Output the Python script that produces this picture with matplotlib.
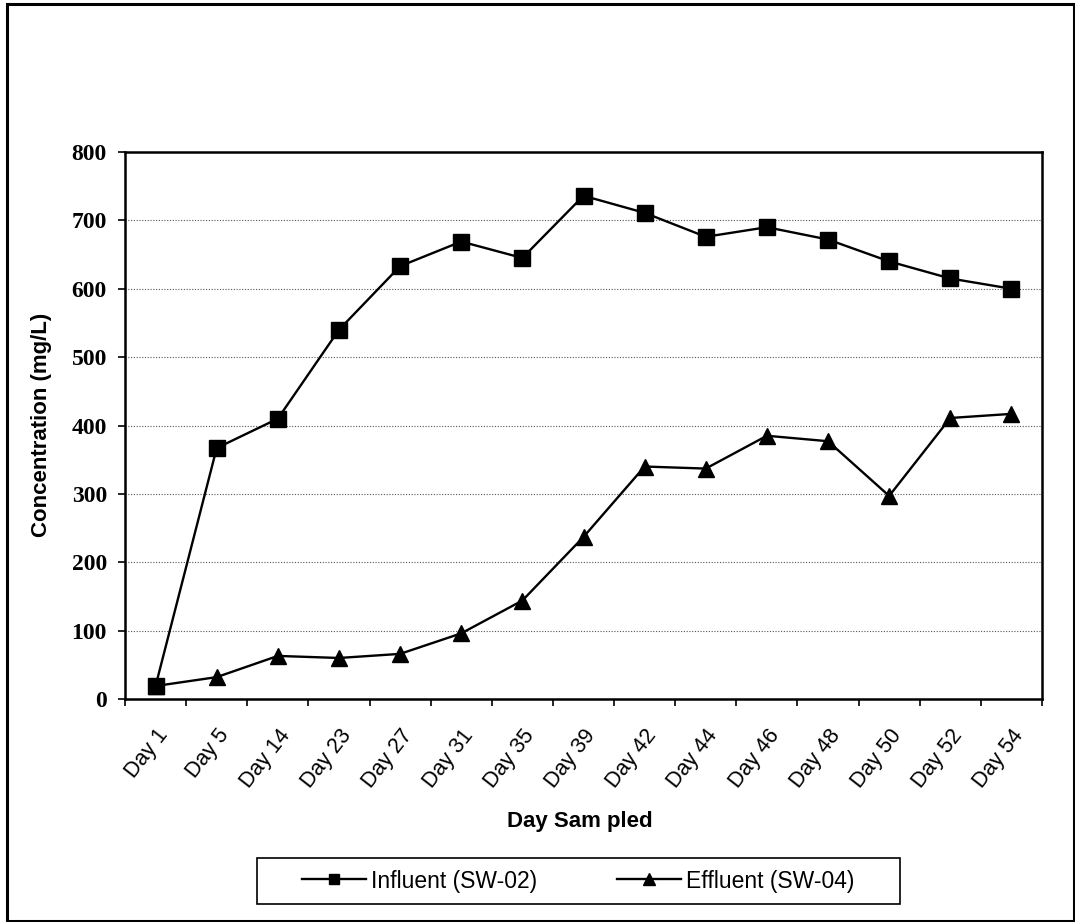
import numpy as np
import matplotlib.pyplot as plt
from matplotlib.patches import Rectangle
from matplotlib.ticker import FixedLocator

days = ['Day 1', 'Day 5', 'Day 14', 'Day 23', 'Day 27', 'Day 31', 'Day 35', 'Day 39',
        'Day 42', 'Day 44', 'Day 46', 'Day 48', 'Day 50', 'Day 52', 'Day 54']
influent = [19, 367, 410, 540, 633, 669, 645, 736, 711, 676, 690, 672, 640, 615, 600]
effluent = [19, 32, 63, 60, 66, 96, 144, 237, 340, 337, 385, 377, 297, 411, 417]
y_ticks = [0, 100, 200, 300, 400, 500, 600, 700, 800]

W, H = 1075, 922
fig = plt.figure(figsize=(W / 100, H / 100), dpi=100)
ax = fig.add_axes([125 / W, 1 - 699 / H, 917 / W, 547 / H])

x = np.arange(len(days))
ax.plot(x, effluent, '-^', color='black', lw=1.7, ms=12, label='Effluent (SW-04)', zorder=3)
ax.plot(x, influent, '-s', color='black', lw=1.7, ms=11, label='Influent (SW-02)', zorder=4)

ax.set_xlim(-0.5, len(days) - 0.5)
ax.set_ylim(0, 800)
ax.set_yticks(y_ticks)
ax.set_yticklabels([str(v) for v in y_ticks], fontfamily='Liberation Serif',
                   fontweight='bold', fontsize=17)
ax.set_xticks(x)
ax.set_xticklabels(days, rotation=52, ha='right', va='top', rotation_mode='anchor',
                   fontfamily='Liberation Sans', fontsize=15.5)
ax.tick_params(axis='x', which='major', length=0, pad=19)
ax.xaxis.set_minor_locator(FixedLocator(np.arange(-0.5, len(days), 1.0)))
ax.tick_params(axis='x', which='minor', length=5, width=1.2, direction='out')
ax.tick_params(axis='y', length=5, width=1.2, direction='out', pad=8)

ax.grid(axis='y', linestyle=(0, (1, 1.5)), color='#555555', lw=0.8)
ax.set_axisbelow(True)
for s in ax.spines.values():
    s.set_linewidth(1.8)

# axis titles placed in figure coordinates
fig.text(580 / W, 1 - 821 / H, 'Day Sam pled', ha='center', va='center',
         fontfamily='Liberation Sans', fontweight='bold', fontsize=16)
fig.text(42 / W, 1 - 425 / H, 'Concentration (mg/L)', ha='center', va='center',
         rotation=90, fontfamily='Liberation Sans', fontweight='bold', fontsize=16)

handles, labels = ax.get_legend_handles_labels()
leg = fig.legend(handles[::-1], labels[::-1], loc='center', ncol=2,
                 bbox_to_anchor=(578 / W, 1 - 881 / H),
                 prop={'family': 'Liberation Sans', 'size': 16.5},
                 frameon=False, handlelength=2.8, handletextpad=0.2,
                 columnspacing=3.5, borderpad=0, borderaxespad=0, markerscale=0.7)

fig.patches.append(Rectangle((257 / W, 1 - 904 / H), 643 / W, 46 / H,
                             transform=fig.transFigure, fill=False,
                             edgecolor='black', lw=1.2))
fig.patches.append(Rectangle((7 / W, 1 / H), 1067 / W, 917 / H,
                             transform=fig.transFigure, fill=False,
                             edgecolor='black', lw=2.2))

fig.savefig('out.png', dpi=100)
